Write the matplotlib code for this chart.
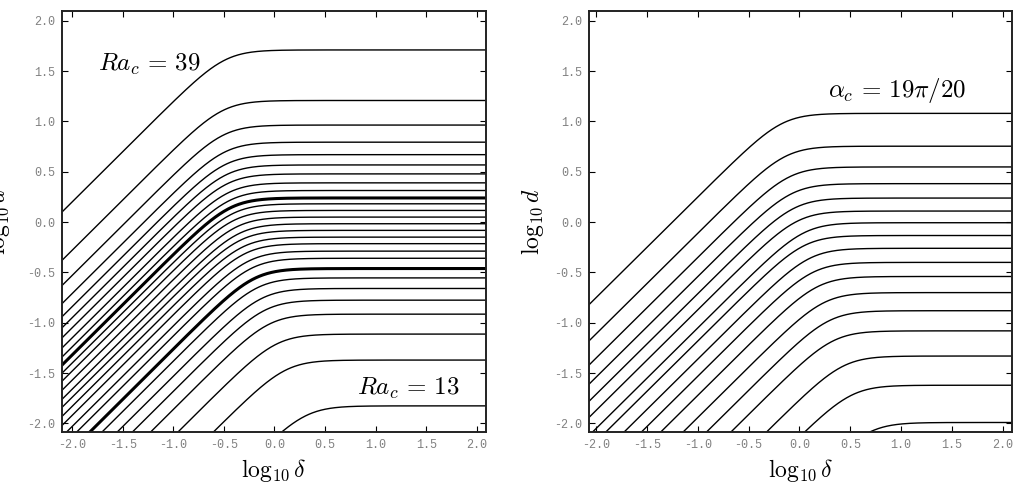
import numpy as np
import matplotlib as mpl
mpl.use("Agg")
import matplotlib.pyplot as plt
from matplotlib.ticker import FormatStrFormatter

mpl.rcParams['mathtext.fontset'] = 'cm'

# ===== データ=====
# 左図: Ra_c = 39 .. 13 の各曲線
ra_values = list(range(39, 12, -1))
# 右端の水平部分の高さ log10 d
ra_plateau = [1.710, 1.208, 0.964, 0.794, 0.670, 0.568, 0.479, 0.390, 0.314,
              0.240, 0.182, 0.116, 0.050, -0.016, -0.082, -0.149, -0.214,
              -0.288, -0.359, -0.461, -0.554, -0.659, -0.775, -0.914,
              -1.112, -1.370, -1.825]
# 左側の傾き1の直線部分の切片 (log10 d - log10 delta)
ra_offset = [2.20, 1.72, 1.47, 1.29, 1.16, 1.05, 0.95, 0.85, 0.76, 0.68,
             0.60, 0.52, 0.43, 0.34, 0.26, 0.17, 0.08, -0.03, -0.13, -0.26,
             -0.38, -0.53, -0.68, -0.86, -1.13, -1.48, -2.13]
ra_bold = [30, 20]

# 右図: alpha_c = 19pi/20 から下へ
alpha_plateau = [1.08, 0.754, 0.548, 0.382, 0.239, 0.110, -0.006, -0.133,
                 -0.260, -0.400, -0.540, -0.700, -0.880, -1.080, -1.330,
                 -1.620, -1.990]
alpha_offset = [1.25, 0.89, 0.65, 0.46, 0.29, 0.13, -0.05, -0.18, -0.36,
                -0.53, -0.72, -0.94, -1.17, -1.41, -1.76, -2.13, -2.67]

x_ticks = [-2.0, -1.5, -1.0, -0.5, 0.0, 0.5, 1.0, 1.5, 2.0]
sharp = 3.0


def knee_curve(x, plateau, offset):
    # 傾き1の直線と水平線を滑らかにつなぐ
    k = plateau - offset
    return plateau - np.log10(1.0 + 10.0 ** (-sharp * (x - k))) / sharp


def style_axes(ax, xlim):
    ax.set_xlim(*xlim)
    ax.set_ylim(-2.085, 2.095)
    ax.set_xticks(x_ticks)
    ax.set_yticks(x_ticks)
    ax.xaxis.set_major_formatter(FormatStrFormatter('%.1f'))
    ax.yaxis.set_major_formatter(FormatStrFormatter('%.1f'))
    ax.tick_params(axis='both', which='major', direction='in', length=4,
                   width=0.8, top=True, right=True, labelsize=8.5,
                   labelcolor='#808080', pad=5)
    for lab in ax.get_xticklabels() + ax.get_yticklabels():
        lab.set_family('Liberation Mono')
    for sp in ax.spines.values():
        sp.set_linewidth(1.4)
        sp.set_color('#222222')
    ax.set_xlabel(r'$\log_{10}\delta$', fontsize=17, labelpad=4)


fig = plt.figure(figsize=(10.16, 4.86), dpi=100)
ax1 = fig.add_axes([0.061, 0.111, 0.4173, 0.866])
ax2 = fig.add_axes([0.5797, 0.111, 0.4163, 0.866])

# ----- 左図 -----
x1 = np.linspace(-2.1, 2.09, 600)
for ra, p, c in zip(ra_values, ra_plateau, ra_offset):
    lw = 2.2 if ra in ra_bold else 1.0
    ax1.plot(x1, knee_curve(x1, p, c), color='black', lw=lw)
style_axes(ax1, (-2.1, 2.09))
ax1.set_ylabel(r'$\log_{10}d$', fontsize=17, labelpad=2)
ax1.yaxis.set_label_coords(-0.118, 0.5)
ax1.text(-1.74, 1.57, r'$Ra_c\,=\,39$', fontsize=18, va='center', ha='left')
ax1.text(0.82, -1.65, r'$Ra_c\,=\,13$', fontsize=18, va='center', ha='left')

# ----- 右図 -----
x2 = np.linspace(-2.07, 2.09, 600)
for p, c in zip(alpha_plateau, alpha_offset):
    ax2.plot(x2, knee_curve(x2, p, c), color='black', lw=1.0)
style_axes(ax2, (-2.07, 2.09))
ax2.set_ylabel(r'$\log_{10}d$', fontsize=17, labelpad=6)
ax2.text(0.28, 1.31, r'$\alpha_c\,=\,19\pi/20$', fontsize=18, va='center',
         ha='left')

fig.savefig('out.png', dpi=100)
